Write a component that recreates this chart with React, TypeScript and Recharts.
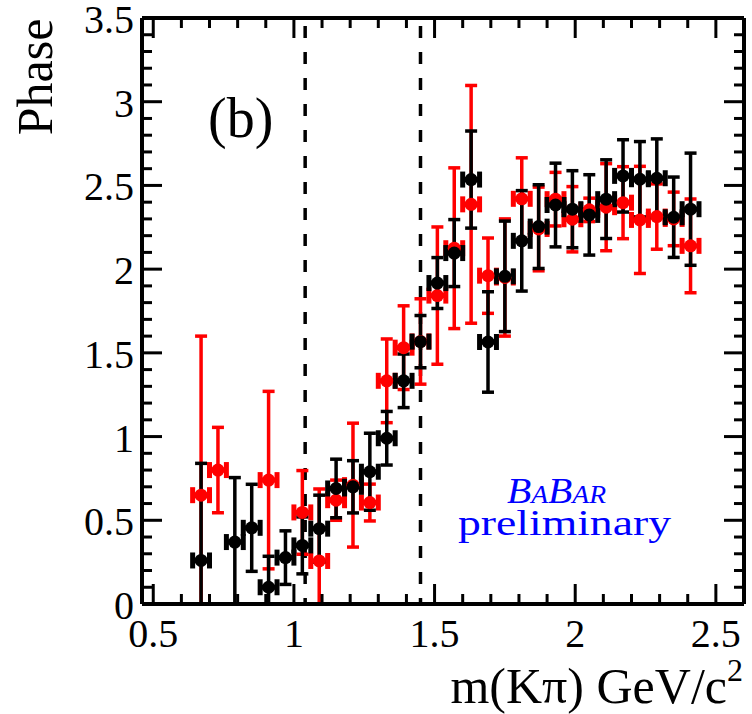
import { ErrorBar, ReferenceLine, Scatter, ScatterChart, XAxis, YAxis } from 'recharts';

// bin centres, values and errors
const blackX = [0.67, 0.79, 0.85, 0.91, 0.97, 1.03, 1.09, 1.15, 1.21, 1.27, 1.33, 1.39, 1.45, 1.51, 1.57, 1.63, 1.69, 1.75, 1.81, 1.87, 1.93, 1.99, 2.05, 2.11, 2.17, 2.23, 2.29, 2.35, 2.41];
const blackY = [0.26, 0.37, 0.455, 0.1, 0.277, 0.35, 0.45, 0.69, 0.7, 0.79, 0.99, 1.333, 1.567, 1.917, 2.096, 2.535, 1.565, 1.957, 2.169, 2.254, 2.383, 2.358, 2.324, 2.418, 2.557, 2.537, 2.543, 2.31, 2.358];
const blackErr = [0.58, 0.385, 0.26, 0.185, 0.16, 0.17, 0.2, 0.175, 0.156, 0.23, 0.16, 0.16, 0.156, 0.152, 0.2, 0.29, 0.3, 0.33, 0.3, 0.25, 0.25, 0.23, 0.24, 0.235, 0.216, 0.225, 0.235, 0.24, 0.335];

const redX = [0.67, 0.73, 0.91, 1.03, 1.09, 1.15, 1.21, 1.27, 1.33, 1.39, 1.45, 1.51, 1.57, 1.63, 1.69, 1.75, 1.81, 1.87, 1.93, 1.99, 2.05, 2.11, 2.17, 2.23, 2.29, 2.35, 2.41];
const redY = [0.65, 0.8, 0.74, 0.547, 0.257, 0.62, 0.71, 0.606, 1.333, 1.531, 1.568, 1.842, 2.125, 2.387, 1.961, 1.95, 2.42, 2.24, 2.418, 2.298, 2.354, 2.37, 2.397, 2.294, 2.314, 2.3, 2.139];
const redErr = [0.95, 0.255, 0.53, 0.25, 0.43, 0.12, 0.37, 0.11, 0.25, 0.25, 0.255, 0.41, 0.48, 0.71, 0.225, 0.35, 0.245, 0.25, 0.16, 0.195, 0.07, 0.26, 0.215, 0.32, 0.195, 0.16, 0.28];

const binHalfWidth = 0.03;
const dashedLines = [1.04, 1.45];

const xTicks = [0.5, 0.6, 0.7, 0.8, 0.9, 1, 1.1, 1.2, 1.3, 1.4, 1.5, 1.6, 1.7, 1.8, 1.9, 2, 2.1, 2.2, 2.3, 2.4, 2.5];
const yTicks = [0, 0.1, 0.2, 0.3, 0.4, 0.5, 0.6, 0.7, 0.8, 0.9, 1, 1.1, 1.2, 1.3, 1.4, 1.5, 1.6, 1.7, 1.8, 1.9, 2, 2.1, 2.2, 2.3, 2.4, 2.5, 2.6, 2.7, 2.8, 2.9, 3, 3.1, 3.2, 3.3, 3.4, 3.5];

const W = 752;
const H = 714;
const PLOT = { left: 142, right: 744, top: 18, bottom: 604 };
const FONT = '"Liberation Serif", "Times New Roman", serif';

const black = blackX.map((x, i) => ({ x, y: blackY[i], ex: binHalfWidth, ey: blackErr[i] }));
const red = redX.map((x, i) => ({ x, y: redY[i], ex: binHalfWidth, ey: redErr[i] }));

const isMajor = (v: number) => Math.abs(v * 2 - Math.round(v * 2)) < 1e-6;
const tickLen = (v: number) => (isMajor(v) ? 20 : 10);

function BottomTick(props: any) {
  const { x, payload } = props;
  const v = payload.value;
  return (
    <g>
      <line x1={x} x2={x} y1={PLOT.bottom} y2={PLOT.bottom - tickLen(v)} stroke="#000" strokeWidth={3} />
      {isMajor(v) && (
        <text x={x} y={PLOT.bottom + 43} textAnchor="middle" fontSize={40} fontFamily={FONT} fill="#000">
          {String(v)}
        </text>
      )}
    </g>
  );
}

function TopTick(props: any) {
  const { x, payload } = props;
  return <line x1={x} x2={x} y1={PLOT.top} y2={PLOT.top + tickLen(payload.value)} stroke="#000" strokeWidth={3} />;
}

function LeftTick(props: any) {
  const { y, payload } = props;
  const v = payload.value;
  return (
    <g>
      <line x1={PLOT.left} x2={PLOT.left + tickLen(v)} y1={y} y2={y} stroke="#000" strokeWidth={3} />
      {isMajor(v) && (
        <text x={134} y={y + 15} textAnchor="end" fontSize={40} fontFamily={FONT} fill="#000">
          {String(v)}
        </text>
      )}
    </g>
  );
}

function RightTick(props: any) {
  const { y, payload } = props;
  return <line x1={PLOT.right} x2={PLOT.right - tickLen(payload.value)} y1={y} y2={y} stroke="#000" strokeWidth={3} />;
}

const dot = (color: string) => (p: any) => <circle cx={p.cx} cy={p.cy} r={6.5} fill={color} />;

const axisLine = { stroke: '#000', strokeWidth: 4 };

export default function App() {
  return (
    <div style={{ position: 'absolute', left: 0, top: 0, width: W, height: H, background: '#fff' }}>
      {/* error bars that run past the frame get cut at the plot area, like ROOT does */}
      <style>{'.recharts-errorBar { clip-path: url(#plotClip); }'}</style>
      <ScatterChart
        width={W}
        height={H}
        margin={{ top: PLOT.top - 1, right: W - PLOT.right - 1, bottom: H - PLOT.bottom - 1, left: PLOT.left - 1 }}
      >
        <XAxis
          xAxisId={0}
          type="number"
          dataKey="x"
          domain={[0.46, 2.6]}
          allowDataOverflow
          ticks={xTicks}
          interval={0}
          height={1}
          tickLine={false}
          tick={BottomTick}
          axisLine={axisLine}
        />
        <XAxis
          xAxisId="top"
          orientation="top"
          type="number"
          dataKey="x"
          domain={[0.46, 2.6]}
          allowDataOverflow
          ticks={xTicks}
          interval={0}
          height={1}
          tickLine={false}
          tick={TopTick}
          axisLine={axisLine}
        />
        <YAxis
          yAxisId={0}
          type="number"
          dataKey="y"
          domain={[0, 3.5]}
          allowDataOverflow
          ticks={yTicks}
          interval={0}
          width={1}
          tickLine={false}
          tick={LeftTick}
          axisLine={axisLine}
        />
        <YAxis
          yAxisId="right"
          orientation="right"
          type="number"
          dataKey="y"
          domain={[0, 3.5]}
          allowDataOverflow
          ticks={yTicks}
          interval={0}
          width={1}
          tickLine={false}
          tick={RightTick}
          axisLine={axisLine}
        />
        {dashedLines.map((x) => (
          <ReferenceLine key={x} x={x} xAxisId={0} yAxisId={0} stroke="#000" strokeWidth={3.5} strokeDasharray="12 14" strokeDashoffset={-20} />
        ))}
        <Scatter data={red} xAxisId={0} yAxisId={0} fill="#ff0000" shape={dot('#ff0000')} isAnimationActive={false}>
          <ErrorBar dataKey="ey" direction="y" width={6} stroke="#ff0000" strokeWidth={3.5} isAnimationActive={false} />
          <ErrorBar dataKey="ex" direction="x" width={8} stroke="#ff0000" strokeWidth={5} isAnimationActive={false} />
        </Scatter>
        <Scatter data={black} xAxisId={0} yAxisId={0} fill="#000" shape={dot('#000')} isAnimationActive={false}>
          <ErrorBar dataKey="ey" direction="y" width={6} stroke="#000" strokeWidth={3.5} isAnimationActive={false} />
          <ErrorBar dataKey="ex" direction="x" width={8} stroke="#000" strokeWidth={5} isAnimationActive={false} />
        </Scatter>
      </ScatterChart>
      <svg width={W} height={H} style={{ position: 'absolute', left: 0, top: 0, pointerEvents: 'none' }}>
        <defs>
          <clipPath id="plotClip" clipPathUnits="userSpaceOnUse">
            <rect x={PLOT.left} y={PLOT.top} width={PLOT.right - PLOT.left} height={PLOT.bottom - PLOT.top} />
          </clipPath>
        </defs>
        <text x={52} y={77} transform="rotate(-90 52 77)" fontSize={50} fontFamily={FONT} textAnchor="middle" fill="#000">
          Phase
        </text>
        <text x={743} y={703} fontSize={50} fontFamily={FONT} textAnchor="end" fill="#000">
          m(Kπ) GeV/c<tspan fontSize={32} dy={-22}>2</tspan>
        </text>
        <text x={208} y={137} fontSize={56} fontFamily={FONT} fill="#000">
          (b)
        </text>
        <text
          x={507}
          y={503}
          fontSize={36}
          fontFamily={FONT}
          fontStyle="italic"
          fontVariant="small-caps"
          textLength={99}
          lengthAdjust="spacingAndGlyphs"
          fill="#0000ff"
        >
          BaBar
        </text>
        <text x={458} y={535} fontSize={36} fontFamily={FONT} textLength={213} lengthAdjust="spacingAndGlyphs" fill="#0000ff">
          preliminary
        </text>
      </svg>
    </div>
  );
}
